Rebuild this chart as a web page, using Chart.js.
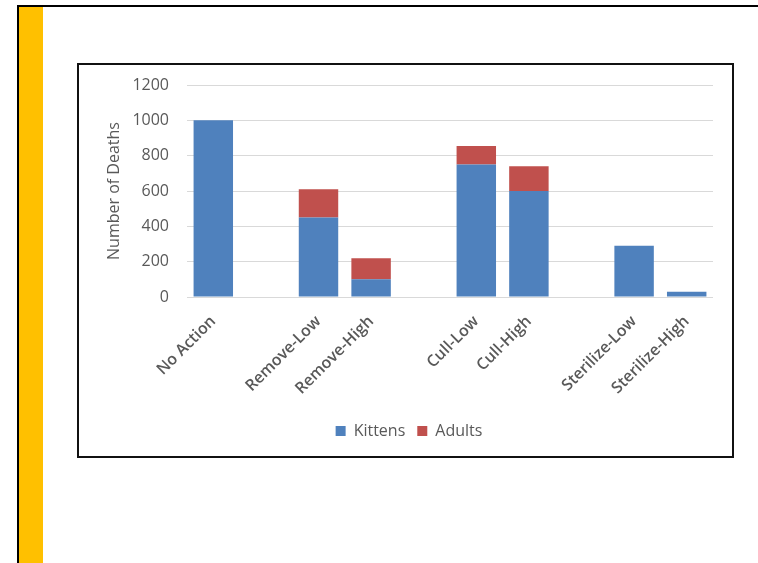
<!DOCTYPE html>
<html>
<head>
<meta charset="utf-8">
<script src="https://cdn.jsdelivr.net/npm/chart.js@4"></script>
<style>
  html, body { margin: 0; padding: 0; background: #fff; }
  body { width: 758px; height: 563px; position: relative; overflow: hidden; font-family: "Open Sans", sans-serif; }
  .top-rule { position: absolute; left: 17px; top: 5px; width: 741px; height: 2px; background: #000; }
  .left-rule { position: absolute; left: 17px; top: 5px; width: 2px; height: 558px; background: #000; }
  .accent { position: absolute; left: 19px; top: 7px; width: 24px; height: 556px; background: #FFC000; }
  .frame { position: absolute; left: 77px; top: 63px; width: 657px; height: 395px; box-sizing: border-box; border: 2px solid #111; background: #fff; }
  .frame canvas { position: absolute; left: 0; top: 0; }
</style>
</head>
<body>
<div class="top-rule"></div>
<div class="left-rule"></div>
<div class="accent"></div>
<div class="frame">
  <canvas id="chart" width="653" height="391"></canvas>
</div>
<script>
// Deaths by management scenario; blank categories separate the scenario groups
const categories = ['No Action', '', 'Remove-Low', 'Remove-High', '', 'Cull-Low', 'Cull-High', '', 'Sterilize-Low', 'Sterilize-High'];
const kittens = [1000, null, 450, 100, null, 750, 600, null, 290, 30];
const adults  = [0, null, 160, 120, null, 105, 140, null, 0, 0];
const yTicks = [0, 200, 400, 600, 800, 1000, 1200];

const textGray = '#595959';
const gridGray = '#D9D9D9';

new Chart(document.getElementById('chart'), {
  type: 'bar',
  data: {
    labels: categories,
    datasets: [
      { label: 'Kittens', data: kittens, backgroundColor: '#4F81BD', barPercentage: 0.75, categoryPercentage: 1 },
      { label: 'Adults', data: adults, backgroundColor: '#C0504D', barPercentage: 0.75, categoryPercentage: 1 }
    ]
  },
  options: {
    responsive: false,
    animation: false,
    layout: { padding: { top: 20, right: 19, bottom: 7, left: 26 } },
    plugins: {
      tooltip: { enabled: false },
      legend: {
        position: 'bottom',
        labels: {
          boxWidth: 10, boxHeight: 10, padding: 12,
          color: textGray,
          font: { family: '"Open Sans"', size: 16 }
        }
      }
    },
    scales: {
      x: {
        stacked: true,
        grid: { display: false, drawTicks: false },
        border: { display: false },
        ticks: {
          autoSkip: false, minRotation: 45, maxRotation: 45, padding: 15,
          color: textGray,
          font: { family: '"Open Sans"', size: 16, weight: '600' }
        },
        afterFit(scale) { scale.height = 114; }
      },
      y: {
        stacked: true,
        min: 0, max: 1200,
        afterBuildTicks(scale) { scale.ticks = yTicks.map(v => ({ value: v })); },
        grid: { color: gridGray, lineWidth: 1, drawTicks: false },
        border: { display: false },
        ticks: {
          padding: 18,
          color: textGray,
          font: { family: '"Open Sans"', size: 16 },
          callback: (v) => String(v)
        },
        title: {
          display: true,
          text: 'Number of Deaths',
          color: textGray,
          font: { family: '"Open Sans"', size: 16 },
          padding: { top: 0, bottom: 0 }
        },
        afterFit(scale) {
          scale.width = 82;
          scale.paddingTop = 0;
          scale.paddingBottom = 0;
        }
      }
    }
  }
});
</script>
</body>
</html>
